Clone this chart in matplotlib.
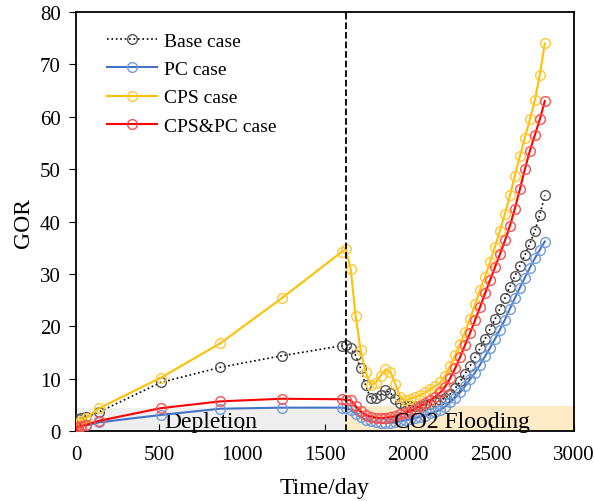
import numpy as np
import matplotlib
matplotlib.use('Agg')
import matplotlib.pyplot as plt

plt.rcParams['font.family'] = ['Liberation Serif', 'DejaVu Serif']

# tiempos (dias): agotamiento y luego inyeccion de CO2
t_depl = [0, 10, 30, 60, 140, 510, 870, 1240, 1600]
t_flood = [1625, 1655, 1685, 1715, 1745, 1775, 1805, 1835, 1865, 1895,
           1925, 1955, 1985, 2015, 2045, 2075, 2105, 2135, 2165, 2195,
           2225, 2255, 2285, 2315, 2345, 2375, 2405, 2435, 2465, 2495,
           2525, 2555, 2585, 2615, 2645, 2675, 2705, 2735, 2765, 2795, 2825]
tiempo = t_depl + t_flood

base = [1.0, 2.4, 2.6, 2.7, 3.7, 9.3, 12.2, 14.4, 16.3,
        16.4, 15.8, 14.5, 12.0, 8.8, 6.3, 6.3, 6.9, 7.8, 7.3,
        6.1, 5.3, 4.9, 4.8, 4.8, 4.9, 5.0, 5.2, 5.5, 5.9,
        6.4, 7.1, 8.2, 9.5, 11.0, 12.5, 14.1, 15.8, 17.6, 19.5,
        21.4, 23.4, 25.4, 27.6, 29.6, 31.6, 33.6, 35.8, 38.2, 41.3, 45.0]

pc = [0.3, 0.8, 1.0, 1.1, 1.7, 3.1, 4.3, 4.5, 4.5,
      4.4, 4.1, 3.3, 2.7, 2.2, 1.9, 1.7, 1.6, 1.6, 1.6,
      1.7, 1.9, 2.1, 2.3, 2.5, 2.8, 3.0, 3.4, 3.7, 4.1,
      4.7, 5.5, 6.4, 7.4, 8.6, 9.9, 11.2, 12.7, 14.3, 15.9,
      17.6, 19.4, 21.3, 23.4, 25.4, 27.4, 29.3, 31.2, 33.0, 34.6, 36.2]

cps = [0.5, 1.6, 2.0, 2.5, 4.4, 10.2, 16.8, 25.4, 34.2,
       34.7, 31.0, 22.0, 15.5, 11.3, 8.8, 9.2, 10.6, 11.8, 11.3,
       9.0, 6.5, 5.9, 6.2, 6.5, 6.9, 7.4, 8.0, 8.6, 9.3,
       10.6, 12.5, 14.5, 16.7, 19.0, 21.5, 24.2, 27.0, 29.5, 32.3,
       35.2, 38.3, 41.5, 45.0, 48.8, 52.5, 56.0, 59.5, 63.2, 68.0, 74.0]

cps_pc = [0.2, 0.8, 1.0, 1.2, 2.0, 4.4, 5.7, 6.2, 6.1,
          6.0, 5.9, 4.8, 3.8, 3.1, 2.8, 2.6, 2.5, 2.6, 2.7,
          2.9, 3.2, 3.5, 3.9, 4.3, 4.8, 5.3, 5.9, 6.6, 7.4,
          8.5, 10.1, 12.0, 14.2, 16.5, 18.8, 21.2, 23.7, 26.3, 28.8,
          31.3, 33.8, 36.4, 39.2, 42.5, 46.2, 50.0, 53.5, 56.5, 59.5, 63.0]

etiquetas = ['Base case', 'PC case', 'CPS case', 'CPS&PC case']
t_cambio = 1625

fig = plt.figure(figsize=(5.94, 5.02), dpi=100)
ax = fig.add_axes([0.128, 0.139, 0.838, 0.835])

# zonas sombreadas
ax.fill_between([0, t_cambio], 0, 4.5, color='#efefef', zorder=0, lw=0)
ax.fill_between([t_cambio, 3000], 0, 4.8, color='#fdebc8', zorder=0, lw=0)

estilos = [
    (base, 'black', '#555555', ':', 1.2),
    (pc, '#4472c4', '#6f9be0', '-', 1.5),
    (cps, '#ffc000', '#ffc838', '-', 1.5),
    (cps_pc, '#ff0000', '#ff5050', '-', 1.5),
]
for (serie, color, cmark, ls, lw), lab in zip(estilos, etiquetas):
    ax.plot(tiempo, serie, ls, color=color, lw=lw, marker='o', markersize=7,
            markerfacecolor='none', markeredgecolor=cmark, markeredgewidth=1.0,
            label=lab, zorder=3)

ax.axvline(t_cambio, color='black', ls='--', lw=1.3, zorder=4)

ax.text(530, 1.9, 'Depletion', fontsize=17, va='center', ha='left', zorder=2)
ax.text(1915, 1.9, 'CO2 Flooding', fontsize=17, va='center', ha='left', zorder=5)

ax.set_xlim(0, 3000)
ax.set_ylim(0, 80)
ax.set_xticks(np.arange(0, 3001, 500))
ax.set_yticks(np.arange(0, 81, 10))
ax.tick_params(axis='x', direction='in', labelsize=15, length=5, pad=10)
ax.tick_params(axis='y', direction='out', labelsize=15, length=5, pad=6)
ax.set_xlabel('Time/day', fontsize=17, labelpad=9)
ax.set_ylabel('GOR', fontsize=17, labelpad=4)
for s in ax.spines.values():
    s.set_linewidth(1.3)

ax.legend(loc='upper left', frameon=False, fontsize=14, handlelength=2.6,
          handletextpad=0.35, labelspacing=0.55, borderpad=0, borderaxespad=0,
          bbox_to_anchor=(0.062, 0.952))

fig.savefig('out.png', dpi=100)
